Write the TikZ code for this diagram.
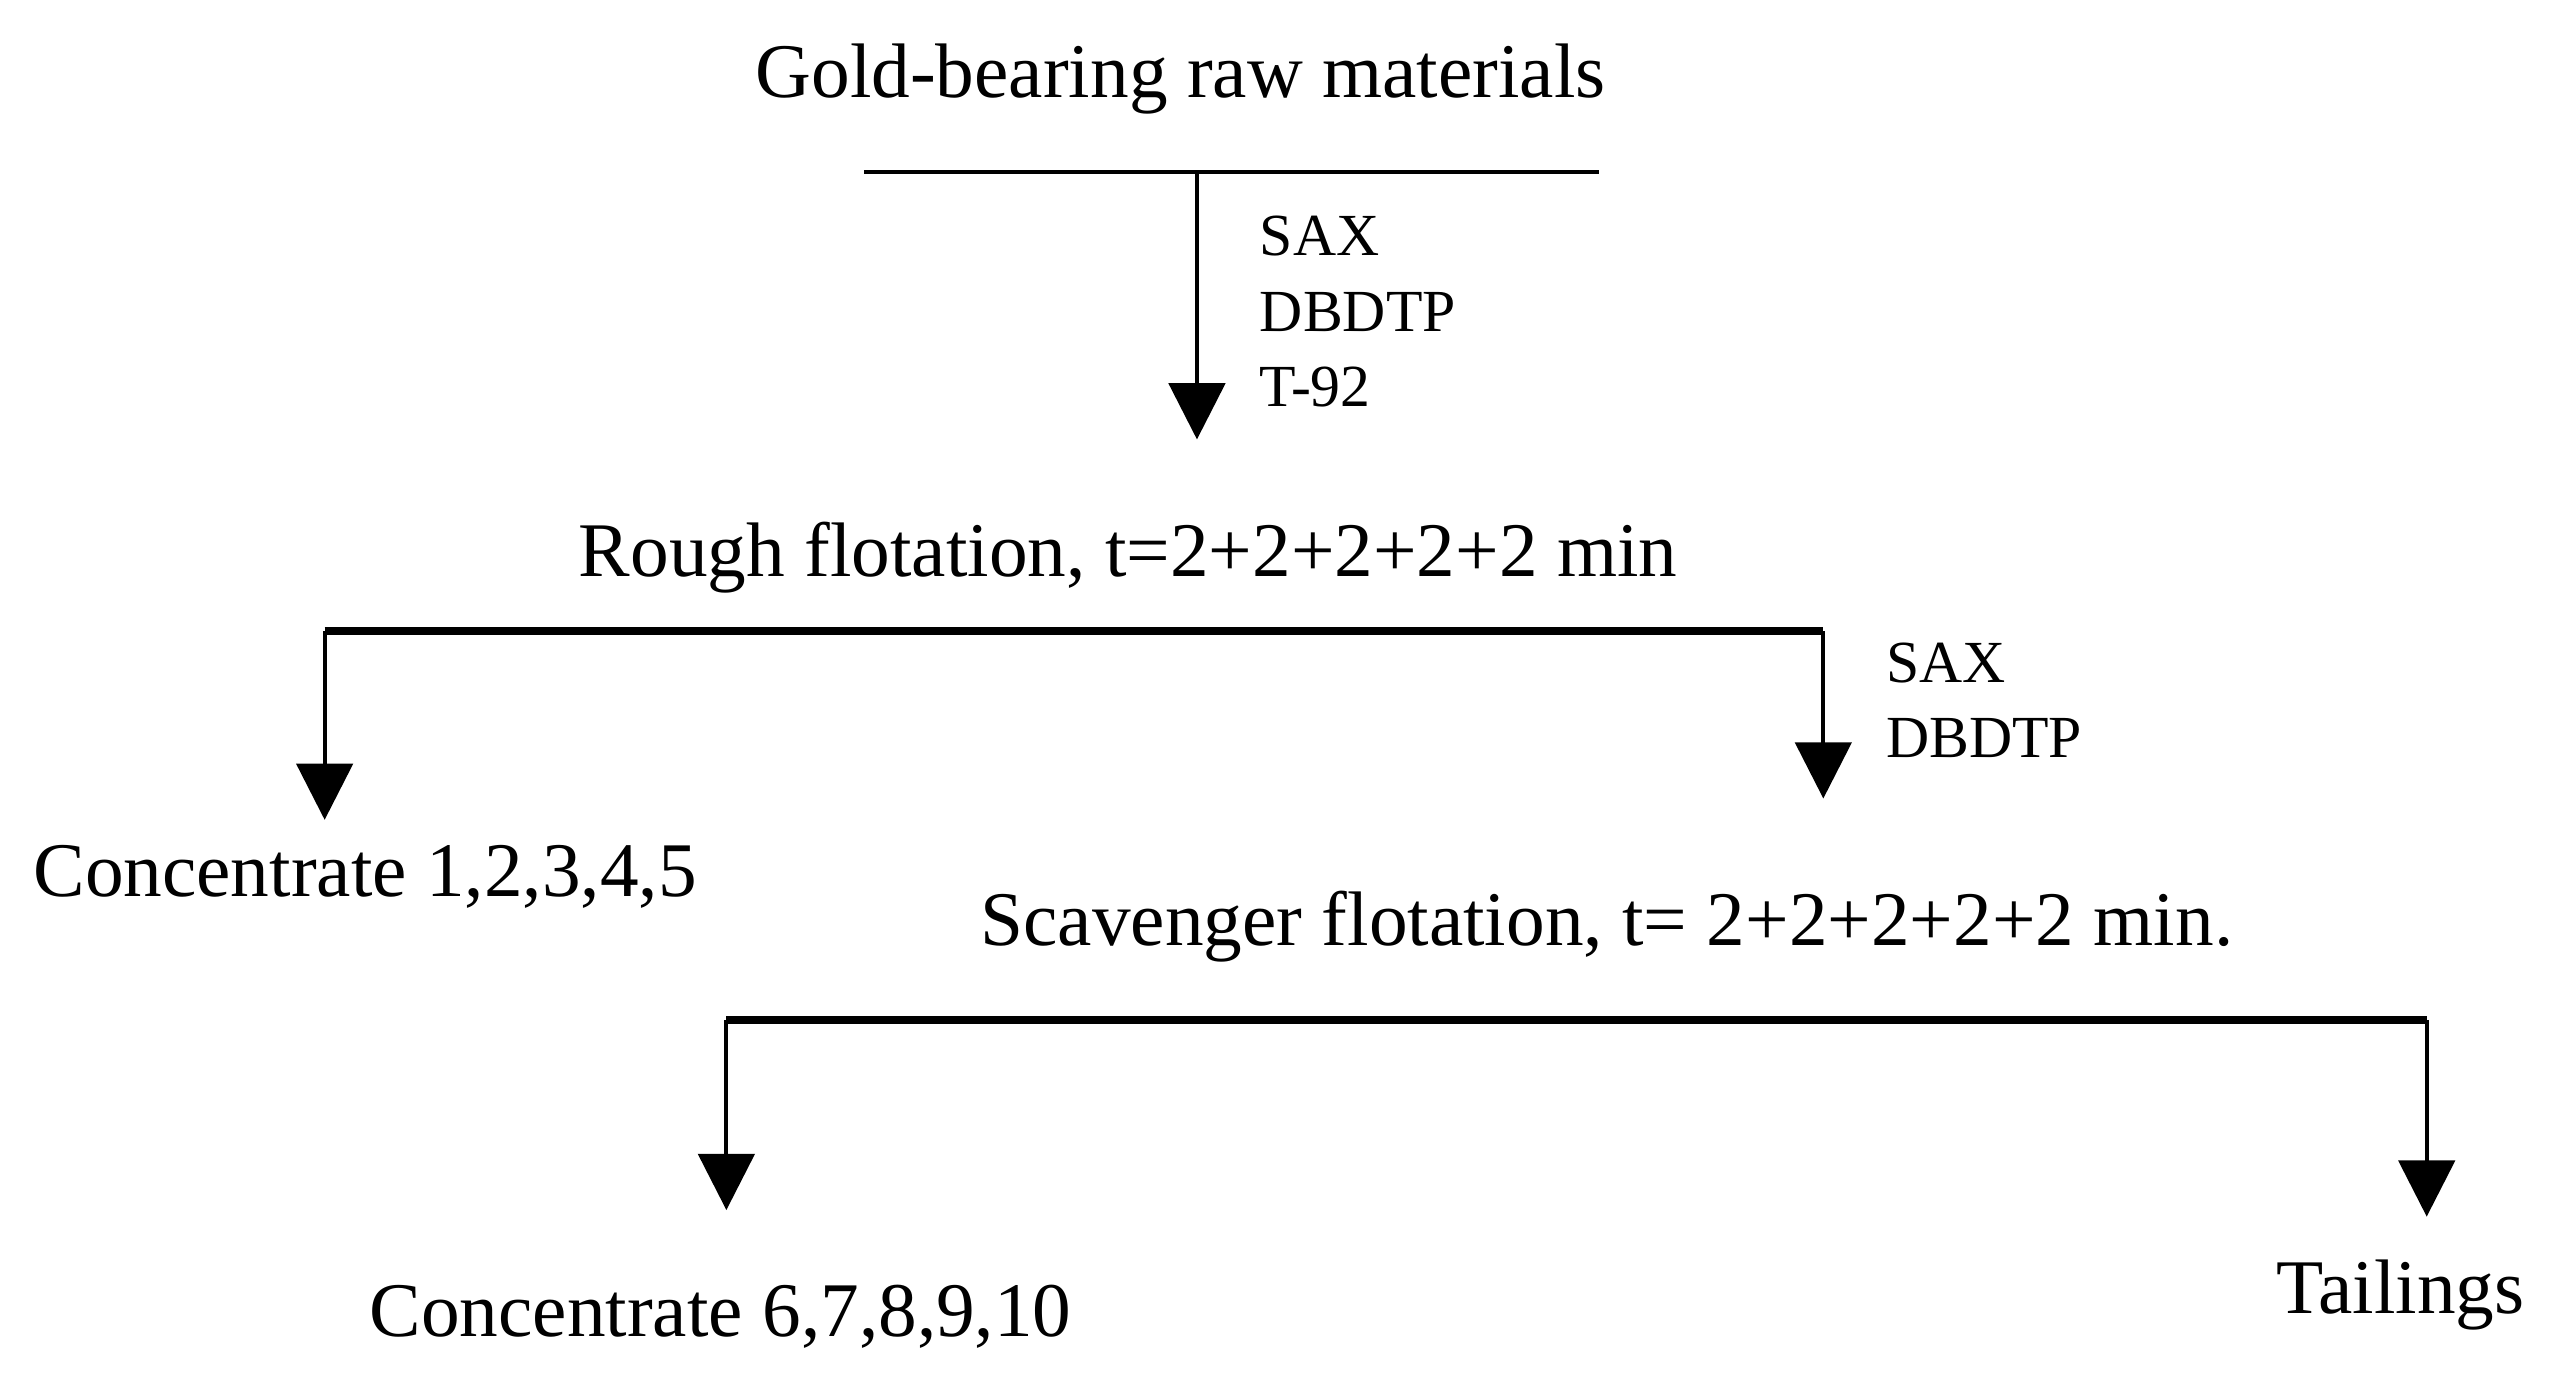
\documentclass[tikz,border=0pt]{standalone}
\usepackage{fontspec}
\setmainfont{Liberation Serif}
\usetikzlibrary{arrows.meta}
\begin{document}
\begin{tikzpicture}[x=0.0164cm, y=-0.0164cm]
	\tikzset{
		mytitle/.style = {inner sep=0pt, font=\fontsize{22}{24}\selectfont},
		myreag/.style = {inner sep=0pt, anchor=west, align=left, font=\fontsize{17}{21.5}\selectfont},
		barthin/.style = {line width=1.2pt},
		barthick/.style = {line width=2.4pt},
		myarrow/.style = {line width=1.2pt, -{Triangle[length=16pt, width=16pt]}},
	}
	\useasboundingbox (0,0) rectangle (1568,847);
	\node[mytitle] at (720,48) (gold) {Gold-bearing raw materials};
	\coordinate (b0l) at (527,105);
	\coordinate (b0r) at (975,105);
	\coordinate (b0m) at (730,105);
	\node[myreag] at (768,190) (reag1) {SAX\\DBDTP\\T-92};
	\node[mytitle] at (688,340) (rough) {Rough flotation, t=2+2+2+2+2 min};
	\coordinate (b1l) at (198,385);
	\coordinate (b1r) at (1112,385);
	\node[myreag] at (1150,427) (reag2) {SAX\\DBDTP};
	\node[mytitle, anchor=west] at (20,535) (conc1) {Concentrate 1,2,3,4,5};
	\node[mytitle] at (980,565) (scav) {Scavenger flotation, t= 2+2+2+2+2 min.};
	\coordinate (b2l) at (443,622);
	\coordinate (b2r) at (1480,622);
	\node[mytitle, anchor=west] at (225,803) (conc2) {Concentrate 6,7,8,9,10};
	\node[mytitle, anchor=west] at (1388,790) (tail) {Tailings};
	%
	\draw[barthin] (b0l) -- (b0r);
	\draw[myarrow] (b0m) -- (730,268);
	%
	\draw[barthick] (b1l) -- (b1r);
	\draw[myarrow] (b1l) -- (198,500);
	\draw[myarrow] (b1r) -- (1112,487);
	%
	\draw[barthick] (b2l) -- (b2r);
	\draw[myarrow] (b2l) -- (443,738);
	\draw[myarrow] (b2r) -- (1480,742);
\end{tikzpicture}
\end{document}
